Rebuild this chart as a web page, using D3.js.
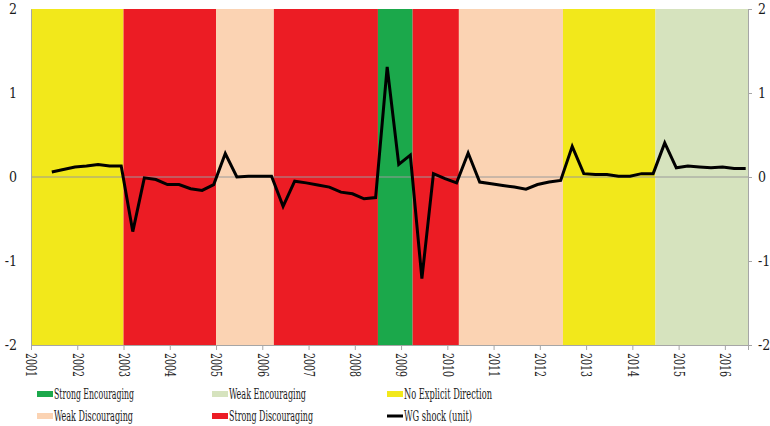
<!DOCTYPE html>
<html><head><meta charset="utf-8">
<script src="https://cdn.jsdelivr.net/npm/d3@7"></script>
<style>body{margin:0;background:#fff}svg{display:block}</style>
</head><body>
<svg id="c" width="770" height="426"></svg>
<script>
// ---- data ----
const years = d3.range(2001, 2017);
const yTicks = [-2, -1, 0, 1, 2];
// policy regimes (start, end in fractional years)
const bandStart = [2001, 2003, 2005, 2006.25, 2008.5, 2009.25, 2010.25, 2012.5, 2014.5];
const bandEnd   = [2003, 2005, 2006.25, 2008.5, 2009.25, 2010.25, 2012.5, 2014.5, 2016.5];
const bandType  = ["No Explicit Direction","Strong Discouraging","Weak Discouraging","Strong Discouraging","Strong Encouraging","Strong Discouraging","Weak Discouraging","No Explicit Direction","Weak Encouraging"];
// WG shock, quarterly observations
const shockStart = 2001.45;
const shock = [0.06,0.09,0.12,0.13,0.15,0.13,0.13,-0.65,-0.01,-0.03,
  -0.09,-0.09,-0.14,-0.16,-0.09,0.28,0.0,0.01,0.01,0.01,
  -0.35,-0.05,-0.07,-0.095,-0.12,-0.18,-0.2,-0.26,-0.245,1.31,
  0.15,0.26,-1.21,0.04,-0.02,-0.07,0.285,-0.06,-0.08,-0.1,
  -0.12,-0.145,-0.09,-0.06,-0.04,0.365,0.04,0.03,0.03,0.01,
  0.01,0.04,0.04,0.405,0.11,0.13,0.12,0.11,0.12,0.10,0.10];
const legendNames = ["Strong Encouraging","Weak Encouraging","No Explicit Direction","Weak Discouraging","Strong Discouraging","WG shock (unit)"];
const legendColors = ["#1BA84B","#D6E3BE","#F2E81B","#FBD3B3","#EC1C24","#000000"];
// ---- layout / style ----
const legendTextWidth = [80, 77, 88, 79, 84, 68];
const colorOf = d3.scaleOrdinal().domain(legendNames.slice(0,5)).range(legendColors.slice(0,5));
const svg = d3.select("#c");
const L = 31, R = 748, T = 9, B = 345;
const x = d3.scaleLinear().domain([2001, 2016.5]).range([L, R]);
const y = d3.scaleLinear().domain([-2, 2]).range([B, T]);
const font = '"DejaVu Serif Condensed","DejaVu Serif",serif';
const numFmt = d => String(d);

svg.append("g").selectAll("rect").data(bandStart).join("rect")
  .attr("x", (d) => x(d)).attr("y", T)
  .attr("width", (d,i) => x(bandEnd[i]) - x(d)).attr("height", B - T)
  .attr("fill", (d,i) => colorOf(bandType[i]));

// zero line
svg.append("line").attr("x1", L).attr("x2", R).attr("y1", y(0)).attr("y2", y(0))
  .attr("stroke", "#9a9a9a").attr("stroke-width", 1);

const axColor = "#a6a6a6";
const yl = svg.append("g").attr("transform", `translate(${L},0)`)
  .call(d3.axisLeft(y).tickValues(yTicks).tickSize(0).tickPadding(14).tickFormat(numFmt));
const yr = svg.append("g").attr("transform", `translate(${R},0)`)
  .call(d3.axisRight(y).tickValues(yTicks).tickSize(4).tickPadding(6).tickFormat(numFmt));
const xa = svg.append("g").attr("transform", `translate(0,${B})`)
  .call(d3.axisBottom(x).tickValues(years).tickSize(5).tickFormat(numFmt));
xa.selectAll("text").attr("transform", "rotate(90)").attr("x", 8).attr("y", 0)
  .attr("dy", "0.35em").attr("text-anchor", "start").attr("font-size", 15)
  .attr("textLength", 24).attr("lengthAdjust", "spacingAndGlyphs");
[yl, yr, xa].forEach(g => {
  g.attr("font-family", font).attr("font-size", 14);
  g.selectAll("path").attr("stroke", axColor);
  g.selectAll("line").attr("stroke", axColor);
  g.selectAll("text").attr("fill", "#1a1a1a");
});

const pts = shock.map((v, i) => [shockStart + 0.25 * i, v]);
svg.append("path").datum(pts)
  .attr("d", d3.line().x(d => x(d[0])).y(d => y(d[1])))
  .attr("fill", "none").attr("stroke", "#000").attr("stroke-width", 3)
  .attr("stroke-linejoin", "miter");

// legend
const colX = [37, 212, 387], rowY = [394, 416];
const lg = svg.append("g").attr("font-family", font).attr("font-size", 15)
  .selectAll("g").data(legendNames).join("g")
  .attr("transform", (d,i) => `translate(${colX[i%3]},${rowY[Math.floor(i/3)]})`);
lg.each(function(d, i) {
  const g = d3.select(this);
  if (i === 5) g.append("rect").attr("x", 0).attr("y", -1.5).attr("width", 16).attr("height", 3).attr("fill", "#000");
  else g.append("rect").attr("x", 0).attr("y", -3).attr("width", 16).attr("height", 6).attr("fill", legendColors[i]);
  g.append("text").attr("x", 17).attr("y", 0).attr("dy", "0.35em").attr("fill", "#1a1a1a")
    .attr("textLength", legendTextWidth[i]).attr("lengthAdjust", "spacingAndGlyphs").text(d);
});
</script>
</body></html>
